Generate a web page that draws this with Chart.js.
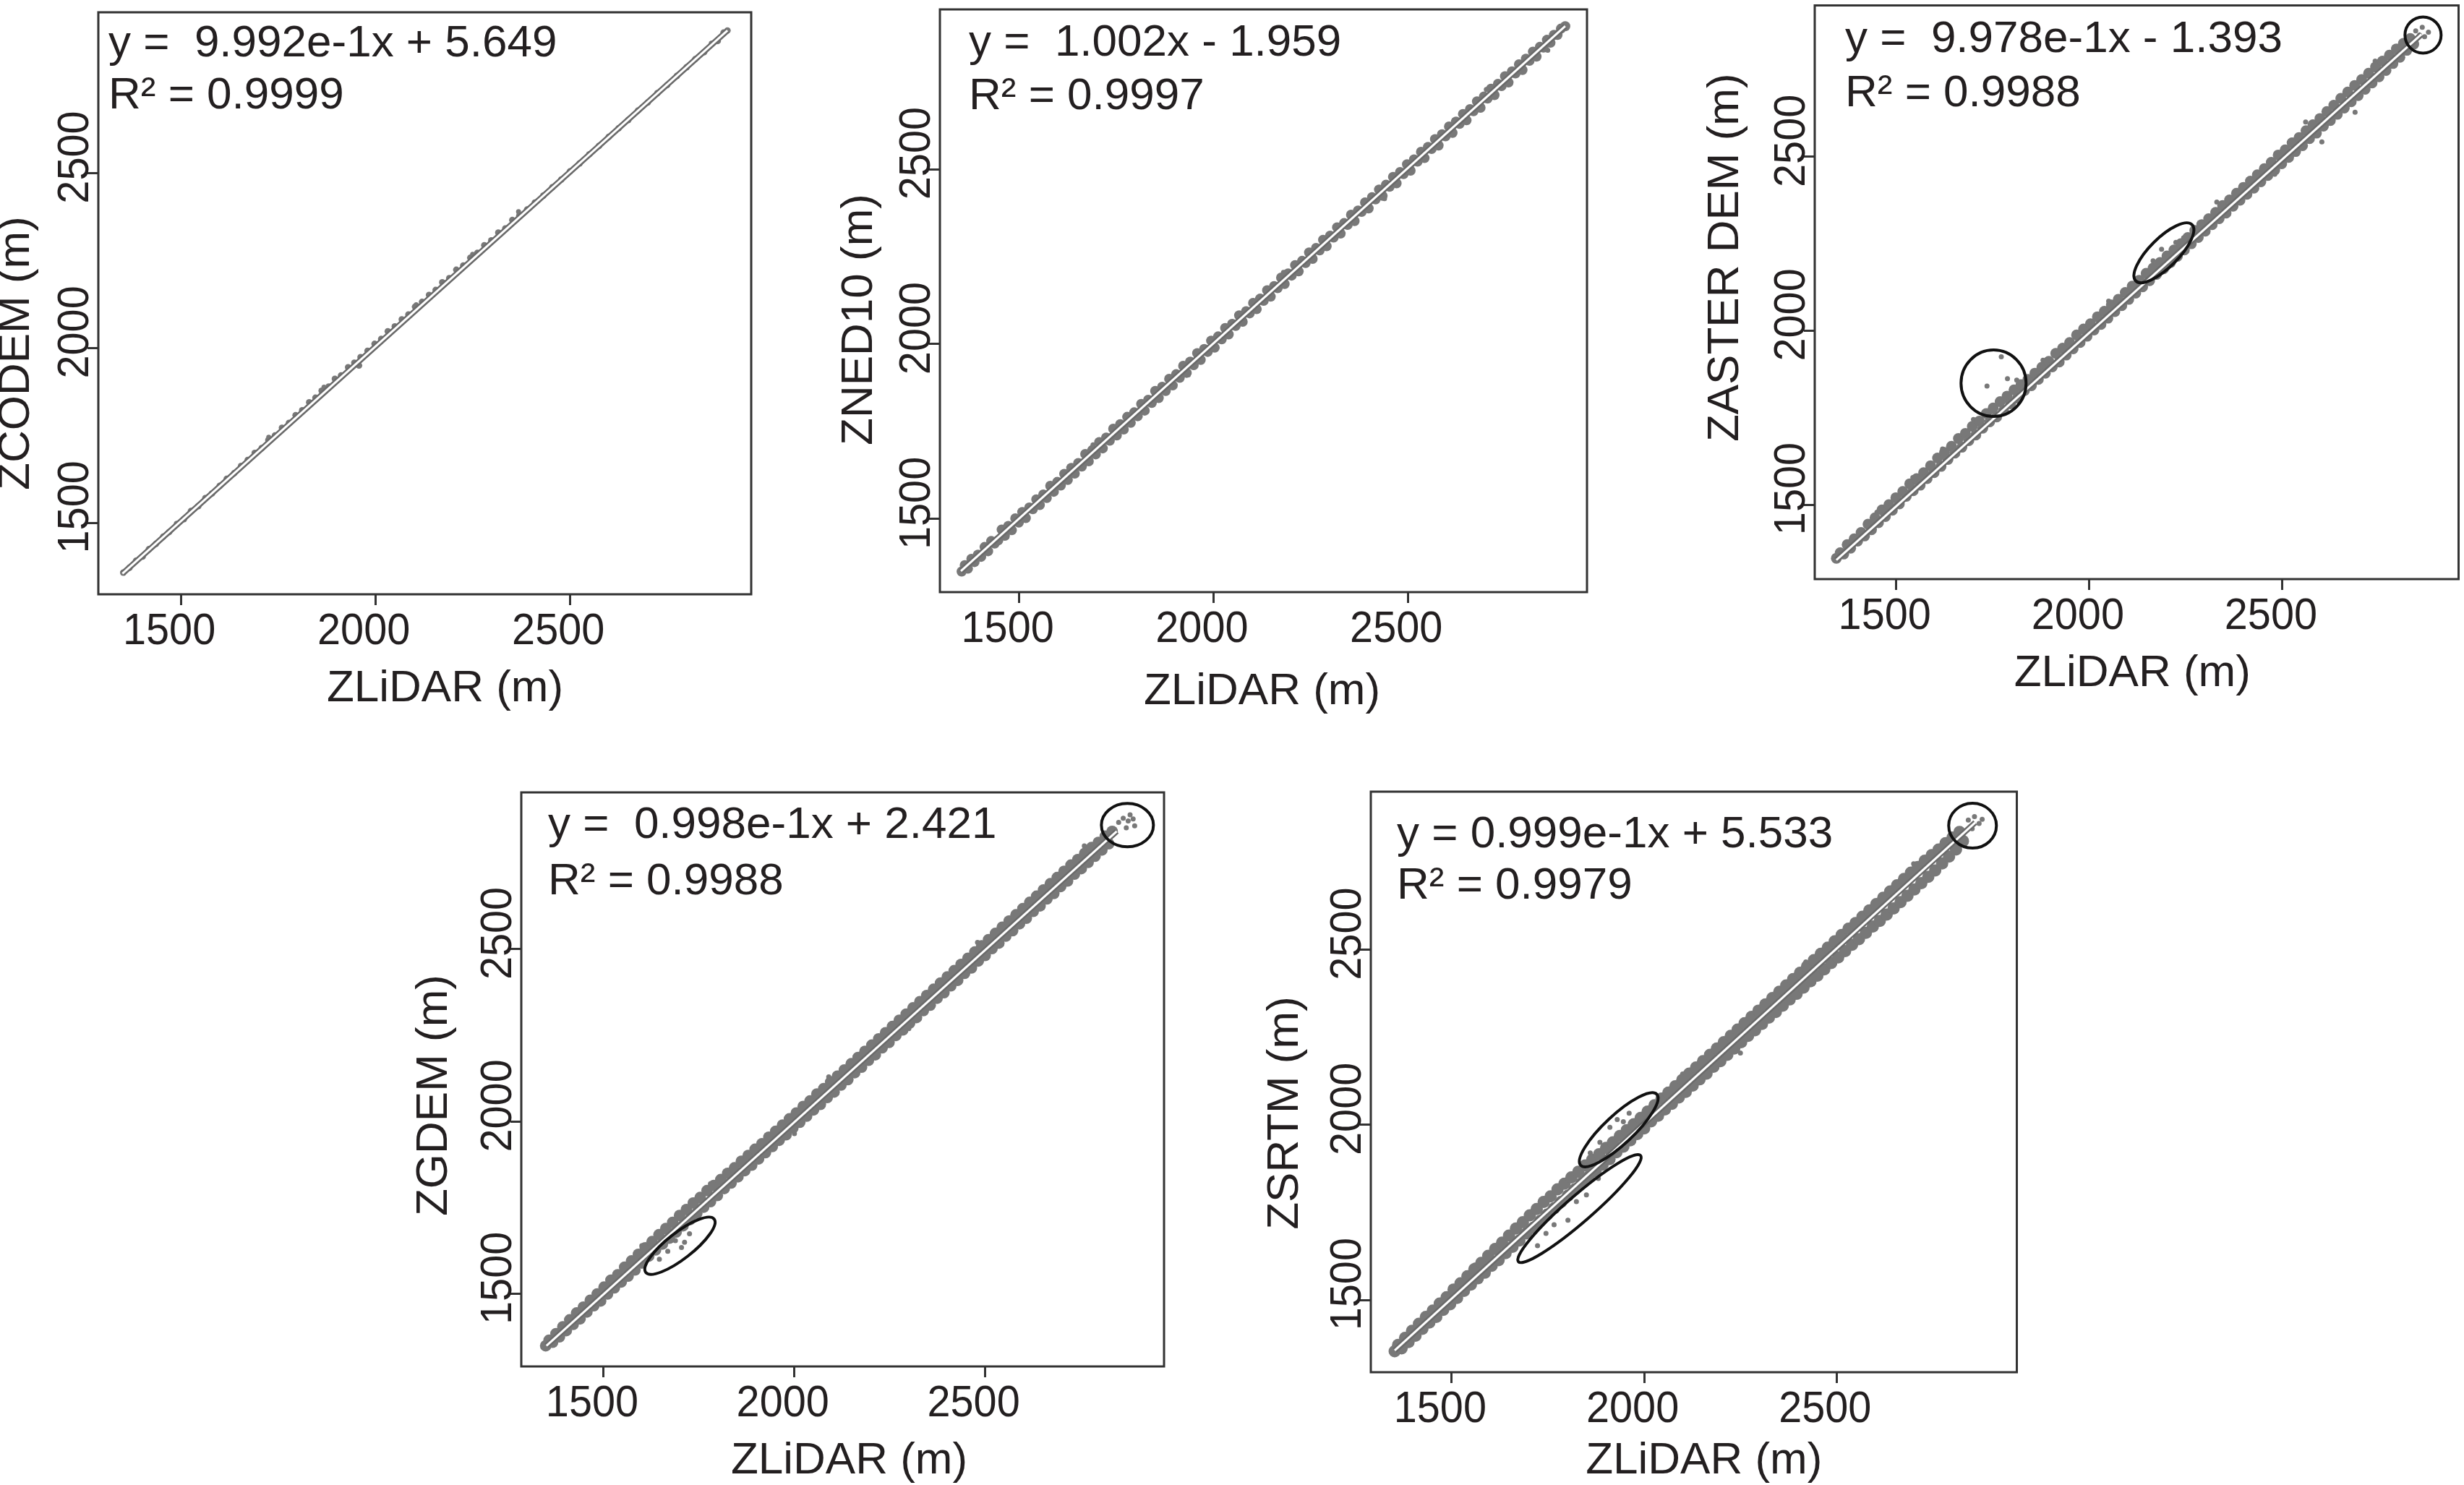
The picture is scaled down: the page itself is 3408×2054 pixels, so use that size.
<!DOCTYPE html>
<html>
<head>
<meta charset="utf-8">
<script src="https://cdn.jsdelivr.net/npm/chart.js@4.4.0/dist/chart.umd.min.js"></script>
<style>
  html, body { margin: 0; padding: 0; background: #fff; overflow: hidden; }
  body { width: 3408px; height: 2054px; position: relative; }
  canvas { position: absolute; }
</style>
</head>
<body>
<script>
// ticks shared by every panel
const tickValues = [1500, 2000, 2500];
const xTitle = "ZLiDAR (m)";
const yTitles = ["ZCODEM (m)", "ZNED10 (m)", "ZASTER DEM (m)", "ZGDEM (m)", "ZSRTM (m)"];
const equations = ["y =  9.992e-1x + 5.649", "y =  1.002x - 1.959", "y =  9.978e-1x - 1.393", "y =  0.998e-1x + 2.421", "y = 0.999e-1x + 5.533"];
const r2Labels = ["R\u00b2 = 0.9999", "R\u00b2 = 0.9997", "R\u00b2 = 0.9988", "R\u00b2 = 0.9988", "R\u00b2 = 0.9979"];

// ZLiDAR vs ZCODEM
const codemPts = [[1352,1358],[1368,1372],[1385,1392],[1402,1404],[1418,1425],[1436,1440],[1455,1461],[1470,1474],[1490,1497],[1508,1511],
  [1526,1534],[1545,1548],[1563,1571],[1580,1584],[1600,1606],[1618,1626],[1637,1642],[1655,1663],[1672,1680],[1690,1700],
  [1708,1714],[1725,1737],[1742,1750],[1760,1772],[1778,1786],[1795,1808],[1812,1822],[1830,1845],[1846,1858],[1862,1878],
  [1880,1890],[1896,1912],[1912,1922],[1930,1945],[1946,1958],[1962,1974],[1958,1950],[1980,1992],[1998,2012],[2015,2026],
  [2032,2048],[2050,2062],[2068,2082],[2085,2096],[2102,2118],[2120,2132],[2138,2152],[2155,2166],[2172,2188],[2190,2200],
  [2208,2224],[2226,2236],[2244,2258],[2262,2272],[2280,2294],[2298,2308],[2316,2330],[2334,2342],[2352,2366],[2370,2378],
  [2390,2396],[2410,2416],[2432,2436],[2455,2460],[2478,2482],[2500,2505],[2525,2528],[2550,2554],[2575,2578],[2600,2604],
  [2625,2628],[2650,2652],[2675,2679],[2700,2702],[2725,2729],[2750,2752],[2775,2778],[2800,2803],[2822,2826],[2845,2846],
  [2865,2870],[2880,2878],[2895,2902],[2905,2908]];
const codemOdd = [[1726,1745],[1868,1888],[2105,2124],[2250,2268],[2368,2390]];
const codemFit = [[1350,1355],[2905,2908]];

// ZLiDAR vs ZNED10
const nedPts = [[1352,1350],[1360,1368],[1368,1358],[1377,1386],[1385,1377],[1394,1398],[1402,1392],[1411,1420],[1420,1408],[1428,1437],
  [1437,1430],[1446,1439],[1455,1470],[1463,1452],[1472,1480],[1481,1468],[1490,1502],[1499,1490],[1508,1520],[1517,1503],
  [1526,1533],[1535,1528],[1544,1556],[1553,1540],[1562,1570],[1571,1560],[1580,1595],[1589,1578],[1598,1606],[1607,1596],
  [1616,1629],[1625,1612],[1634,1646],[1643,1630],[1652,1660],[1661,1650],[1670,1686],[1679,1665],[1688,1697],[1697,1685],
  [1706,1720],[1715,1702],[1724,1733],[1733,1724],[1742,1758],[1751,1739],[1760,1771],[1769,1756],[1778,1792],[1787,1775],
  [1796,1805],[1805,1794],[1814,1829],[1823,1810],[1832,1841],[1841,1832],[1850,1866],[1859,1846],[1868,1878],[1877,1866],
  [1886,1901],[1895,1882],[1904,1914],[1913,1904],[1922,1938],[1931,1918],[1940,1950],[1949,1940],[1958,1974],[1967,1955],
  [1976,1986],[1985,1978],[1994,2010],[2003,1990],[2012,2022],[2021,2014],[2030,2046],[2039,2028],[2048,2058],[2057,2052],
  [2066,2082],[2075,2064],[2084,2094],[2093,2088],[2102,2118],[2111,2100],[2120,2130],[2129,2124],[2138,2154],[2147,2136],
  [2156,2166],[2165,2160],[2174,2190],[2183,2172],[2192,2202],[2201,2196],[2210,2226],[2219,2208],[2228,2238],[2237,2232],
  [2246,2262],[2255,2244],[2264,2275],[2273,2268],[2282,2298],[2291,2280],[2300,2310],[2309,2305],[2318,2334],[2327,2316],
  [2336,2346],[2345,2341],[2354,2370],[2363,2352],[2372,2382],[2381,2378],[2390,2405],[2399,2388],[2408,2420],[2417,2414],
  [2426,2442],[2435,2424],[2444,2456],[2453,2450],[2462,2478],[2471,2460],[2480,2492],[2489,2486],[2498,2514],[2507,2496],
  [2516,2528],[2525,2522],[2534,2550],[2543,2532],[2552,2564],[2561,2558],[2570,2586],[2579,2568],[2588,2600],[2597,2594],
  [2606,2622],[2615,2604],[2624,2636],[2633,2630],[2642,2658],[2651,2640],[2660,2672],[2669,2666],[2678,2694],[2687,2676],
  [2696,2708],[2705,2702],[2714,2730],[2723,2712],[2732,2744],[2741,2738],[2750,2766],[2759,2748],[2768,2780],[2777,2774],
  [2786,2800],[2795,2784],[2804,2816],[2813,2810],[2822,2836],[2831,2822],[2840,2850],[2849,2848],[2858,2870],[2867,2862],
  [2876,2884],[2885,2884],[2894,2902],[2905,2909]];
const nedOdd = [[1468,1448],[1690,1712],[1935,1912],[2180,2205],[2440,2416],[2702,2728],[2860,2840]];
const nedFit = [[1350,1351],[2905,2909]];

// ZLiDAR vs ZASTER DEM
const asterPts = [[1345,1346],[1355,1362],[1364,1358],[1373,1385],[1382,1375],[1391,1402],[1400,1395],[1409,1420],[1418,1410],[1427,1444],
  [1436,1428],[1445,1462],[1454,1448],[1463,1485],[1472,1466],[1481,1500],[1490,1484],[1499,1520],[1508,1502],[1517,1538],
  [1526,1524],[1535,1560],[1544,1540],[1553,1575],[1562,1556],[1571,1592],[1580,1575],[1589,1612],[1598,1592],
  [1607,1634],[1616,1610],[1625,1650],[1634,1630],[1643,1668],[1652,1648],[1661,1690],[1670,1665],[1679,1705],[1688,1684],
  [1697,1725],[1706,1700],[1715,1740],[1724,1720],[1733,1762],[1742,1738],[1751,1778],[1760,1752],[1769,1796],[1778,1770],
  [1787,1812],[1796,1790],[1805,1830],[1814,1806],[1823,1845],[1832,1828],[1841,1860],[1850,1842],[1859,1878],[1868,1860],
  [1877,1895],[1886,1878],[1895,1912],[1904,1896],[1913,1935],[1922,1910],[1931,1950],[1940,1930],[1949,1966],[1958,1948],
  [1967,1988],[1976,1966],[1985,2005],[1994,1984],[2003,2020],[2012,2002],[2021,2040],[2030,2018],[2039,2056],[2048,2036],
  [2057,2074],[2066,2055],[2075,2090],[2084,2072],[2093,2110],[2102,2090],[2111,2128],[2120,2108],[2129,2145],[2138,2126],
  [2147,2165],[2156,2144],[2165,2180],[2174,2162],[2183,2196],[2192,2178],[2201,2215],[2210,2196],[2219,2232],[2228,2214],
  [2237,2250],[2246,2232],[2255,2268],[2264,2250],[2273,2288],[2282,2268],[2291,2305],[2300,2286],[2309,2322],[2318,2305],
  [2327,2340],[2336,2322],[2345,2360],[2354,2338],[2363,2376],[2372,2358],[2381,2395],[2390,2375],[2399,2412],[2408,2392],
  [2417,2430],[2426,2410],[2435,2448],[2444,2428],[2453,2466],[2462,2446],[2471,2484],[2480,2462],[2489,2505],[2498,2480],
  [2507,2520],[2516,2498],[2525,2540],[2534,2515],[2543,2555],[2552,2532],[2561,2575],[2570,2552],[2579,2592],[2588,2568],
  [2597,2610],[2606,2588],[2615,2630],[2624,2604],[2633,2648],[2642,2622],[2651,2668],[2660,2640],[2669,2686],
  [2678,2658],[2687,2705],[2696,2676],[2705,2722],[2714,2694],[2723,2740],[2732,2712],[2741,2758],[2750,2730],
  [2759,2775],[2768,2748],[2777,2792],[2786,2768],[2795,2810],[2804,2786],[2813,2826],[2822,2806],[2831,2840],[2840,2824]];
const asterOdd = [[1543,1578],[1450,1478],[1620,1660],[1700,1745],[1880,1915],[2050,2085],[2330,2370],[2480,2450],[2560,2600],
  [2740,2775],[2602,2543],[2688,2628],
  [1735,1841],[1772,1925],[1788,1862],[1812,1858],[1780,1800],[1745,1767],[1812,1828],
  [2187,2234],[2224,2254],[2244,2267],[2165,2201],
  [2845,2862],[2862,2872],[2878,2858],[2868,2845],[2855,2850]];
const asterFit = [[1345,1341],[2860,2852]];

// ZLiDAR vs ZGDEM
const gdemPts = [[1348,1350],[1357,1366],[1366,1360],[1375,1385],[1384,1376],[1393,1405],[1402,1394],[1411,1425],[1420,1412],[1429,1445],
  [1438,1428],[1447,1462],[1456,1448],[1465,1482],[1474,1466],[1483,1500],[1492,1480],[1501,1520],[1510,1500],[1519,1540],
  [1528,1518],[1537,1556],[1546,1535],[1555,1578],[1564,1552],[1573,1596],[1582,1570],[1591,1615],[1600,1590],[1609,1634],
  [1618,1610],[1627,1652],[1636,1628],[1645,1672],[1654,1645],[1663,1690],[1672,1662],[1681,1708],[1690,1680],[1699,1728],
  [1708,1698],[1717,1745],[1726,1716],[1735,1764],[1744,1734],[1753,1780],[1762,1752],[1771,1800],[1780,1768],[1789,1815],
  [1798,1786],[1807,1832],[1816,1806],[1825,1850],[1834,1822],[1843,1866],[1852,1840],[1861,1885],[1870,1858],[1879,1902],
  [1888,1874],[1897,1920],[1906,1892],[1915,1936],[1924,1910],[1933,1955],[1942,1928],[1951,1972],[1960,1946],[1969,1990],
  [1978,1962],[1987,2008],[1996,1982],[2005,2025],[2014,1998],[2023,2044],[2032,2016],[2041,2060],[2050,2034],[2059,2080],
  [2068,2050],[2077,2096],[2086,2070],[2095,2115],[2104,2086],[2113,2132],[2122,2106],[2131,2150],[2140,2122],[2149,2168],
  [2158,2142],[2167,2186],[2176,2158],[2185,2204],[2194,2178],[2203,2222],[2212,2194],[2221,2240],[2230,2214],[2239,2258],
  [2248,2230],[2257,2276],[2266,2250],[2275,2294],[2284,2266],[2293,2312],[2302,2286],[2311,2330],[2320,2302],[2329,2348],
  [2338,2322],[2347,2366],[2356,2338],[2365,2384],[2374,2358],[2383,2402],[2392,2374],[2401,2420],[2410,2394],[2419,2438],
  [2428,2410],[2437,2456],[2446,2430],[2455,2474],[2464,2446],[2473,2492],[2482,2466],[2491,2510],[2500,2482],[2509,2528],
  [2518,2502],[2527,2546],[2536,2518],[2545,2564],[2554,2538],[2563,2582],[2572,2554],[2581,2600],[2590,2574],[2599,2618],
  [2608,2590],[2617,2636],[2626,2610],[2635,2654],[2644,2626],[2653,2672],[2662,2646],[2671,2690],[2680,2662],[2689,2708],
  [2698,2682],[2707,2726],[2716,2698],[2725,2744],[2734,2718],[2743,2760],[2752,2734],[2761,2778],[2770,2752],[2779,2795],
  [2788,2770],[2797,2810],[2806,2788],[2815,2828],[2824,2806],[2833,2842]];
const gdemOdd = [[1600,1640],[1780,1820],[2000,1965],[2090,2130],[2300,2270],[2480,2520],[2650,2620],[2760,2800],
  [1688,1655],[1725,1675],[1704,1635],[1668,1624],[1646,1601],[1712,1650],
  [2850,2868],[2862,2880],[2875,2872],[2888,2878],[2870,2852],[2892,2858],[2880,2890]];
const gdemFit = [[1350,1350],[2845,2842]];

// ZLiDAR vs ZSRTM
const srtmPts = [[1352,1354],[1361,1372],[1370,1362],[1379,1392],[1388,1380],[1397,1412],[1406,1398],[1415,1432],[1424,1418],[1433,1452],
  [1442,1436],[1451,1470],[1460,1452],[1469,1490],[1478,1472],[1487,1508],[1496,1488],[1505,1530],[1514,1506],[1523,1548],
  [1532,1526],[1541,1568],[1550,1544],[1559,1588],[1568,1562],[1577,1606],[1586,1578],[1595,1626],[1604,1598],[1613,1646],
  [1622,1614],[1631,1664],[1640,1634],[1649,1684],[1658,1652],[1667,1704],[1676,1670],[1685,1722],[1694,1690],[1703,1742],
  [1712,1706],[1721,1760],[1730,1726],[1739,1780],[1748,1744],[1757,1796],[1766,1762],[1775,1816],[1784,1780],[1793,1832],
  [1802,1798],[1811,1850],[1820,1816],[1829,1866],[1838,1834],[1847,1884],[1856,1852],[1865,1900],[1874,1868],[1883,1916],
  [1892,1886],[1901,1934],[1910,1902],[1919,1950],[1928,1922],[1937,1968],[1946,1938],[1955,1985],[1964,1956],[1973,2002],
  [1982,1974],[1991,2020],[2000,1990],[2009,2038],[2018,2010],[2027,2056],[2036,2026],[2045,2075],[2054,2044],[2063,2092],
  [2072,2060],[2081,2110],[2090,2078],[2099,2128],[2108,2094],[2117,2146],[2126,2112],[2135,2164],[2144,2130],[2153,2182],
  [2162,2146],[2171,2200],[2180,2166],[2189,2218],[2198,2182],[2207,2236],[2216,2200],[2225,2254],[2234,2218],[2243,2272],
  [2252,2236],[2261,2290],[2270,2254],[2279,2308],[2288,2270],[2297,2326],[2306,2288],[2315,2344],[2324,2306],[2333,2362],
  [2342,2322],[2351,2380],[2360,2340],[2369,2398],[2378,2358],[2387,2416],[2396,2374],[2405,2434],[2414,2392],[2423,2452],
  [2432,2410],[2441,2470],[2450,2426],[2459,2488],[2468,2444],[2477,2506],[2486,2462],[2495,2524],[2504,2478],[2513,2542],
  [2522,2496],[2531,2560],[2540,2514],[2549,2576],[2558,2530],[2567,2594],[2576,2548],[2585,2612],[2594,2566],[2603,2630],
  [2612,2582],[2621,2648],[2630,2600],[2639,2666],[2648,2618],[2657,2684],[2666,2636],[2675,2702],[2684,2654],[2693,2720],
  [2702,2672],[2711,2736],[2720,2690],[2729,2754],[2738,2708],[2747,2770],[2756,2726],[2765,2786],[2774,2746],[2783,2804],
  [2792,2766],[2801,2820],[2810,2786],[2819,2836],[2828,2810]];
const srtmOdd = [[1560,1600],[1640,1680],[2100,2145],[2250,2205],[2420,2465],[2600,2560],[2700,2745],[2780,2740],
  [1860,1920],[1911,1993],[1961,2033],[1946,2009],[1885,1950],[1930,2015],
  [1723,1655],[1766,1715],[1824,1781],[1881,1847],[1802,1728],[1745,1690],[1850,1800],
  [2842,2870],[2858,2880],[2870,2860],[2852,2845],[2878,2872]];
const srtmFit = [[1352,1356],[2860,2863]];

// layout of the five panels (page pixels) and the marked outlier groups
const panels = [
  { pts: codemPts, odd: codemOdd, fit: codemFit, box: [136, 17, 1039, 822], xr: [1288, 2966], yr: [1296, 2960], r: 4.5,
    eqX: 14, eqY: [61, 133], yT: [-96, 69], xT: [28, 148], rings: [] },
  { pts: nedPts, odd: nedOdd, fit: nedFit, box: [1300, 13, 2196, 819], xr: [1296, 2961], yr: [1291, 2957], r: 7,
    eqX: 40, eqY: [64, 138], yT: [-94, 26], xT: [-2, 155], rings: [] },
  { pts: asterPts, odd: asterOdd, fit: asterFit, box: [2510, 2, 3402, 801], xr: [1289, 2956], yr: [1286, 2935], r: 7.5,
    eqX: 42, eqY: [64, 139], yT: [-106, -48], xT: [-6, 148],
    rings: [{ x: 1752, y: 1849, a: 45, b: 46, rot: 0 }, { x: 2193, y: 2224, a: 55, b: 20, rot: 45 }, { x: 2864, y: 2850, a: 25, b: 25, rot: 0 }] },
  { pts: gdemPts, odd: gdemOdd, fit: gdemFit, box: [721, 1096, 1612, 1890], xr: [1284, 2969], yr: [1290, 2955], r: 8,
    eqX: 37, eqY: [63, 141], yT: [-103, 22], xT: [9, 148],
    rings: [{ x: 1700, y: 1640, a: 60, b: 18, rot: 38 }, { x: 2873, y: 2860, a: 36, b: 30, rot: 0 }] },
  { pts: srtmPts, odd: srtmOdd, fit: srtmFit, box: [1896, 1095, 2792, 1898], xr: [1290, 2968], yr: [1294, 2951], r: 8.5,
    eqX: 36, eqY: [77, 148], yT: [-101, 43], xT: [14, 140],
    rings: [{ x: 1934, y: 1986, a: 72, b: 20, rot: 43 }, { x: 1832, y: 1761, a: 112, b: 18, rot: 41 }, { x: 2853, y: 2854, a: 33, b: 31, rot: 0 }] }
];

const INK = "#231f20";
const DOT = "#787878";
const FONT = "'Liberation Sans', Arial, sans-serif";
const LEFT_SPACE = 150, BOTTOM_SPACE = 175, RIGHT_SPACE = 6;

function toXY(list) {
  return list.map(p => ({ x: p[0], y: p[1] }));
}

// draws the R-style frame, labels, equation text and the outlier rings
const rStyle = {
  id: "rStyle",
  afterDatasetsDraw(chart, args, opts) {
    const ctx = chart.ctx, xs = chart.scales.x, ys = chart.scales.y;
    ctx.save();
    ctx.strokeStyle = "#111";
    ctx.lineWidth = 4;
    opts.panel.rings.forEach(e => {
      ctx.beginPath();
      ctx.ellipse(xs.getPixelForValue(e.x), ys.getPixelForValue(e.y), e.a, e.b, -e.rot * Math.PI / 180, 0, Math.PI * 2);
      ctx.stroke();
    });
    ctx.restore();
  },
  afterDraw(chart, args, opts) {
    const p = opts.panel, i = opts.index;
    const ctx = chart.ctx, area = chart.chartArea, xs = chart.scales.x, ys = chart.scales.y;
    ctx.save();
    ctx.strokeStyle = "#333";
    ctx.lineWidth = 3;
    ctx.strokeRect(area.left, area.top, area.right - area.left, area.bottom - area.top);

    ctx.fillStyle = INK;
    ctx.textAlign = "center";
    ctx.textBaseline = "alphabetic";
    ctx.font = "62px " + FONT;
    // tick labels (R puts the y ones along the axis)
    tickValues.forEach(v => {
      ctx.save();
      ctx.translate(xs.getPixelForValue(v) - 16, area.bottom + 69);
      ctx.scale(0.93, 1);
      ctx.fillText(String(v), 0, 0);
      ctx.restore();
      ctx.save();
      ctx.translate(area.left - 14, ys.getPixelForValue(v) - 22);
      ctx.rotate(-Math.PI / 2);
      ctx.scale(0.93, 1);
      ctx.fillText(String(v), 0, 0);
      ctx.restore();
    });
    // axis titles
    ctx.fillText(xTitle, (area.left + area.right) / 2 + p.xT[0], area.bottom + p.xT[1]);
    ctx.save();
    ctx.translate(area.left + p.yT[0], (area.top + area.bottom) / 2 + p.yT[1]);
    ctx.rotate(-Math.PI / 2);
    ctx.fillText(yTitles[i], 0, 0);
    ctx.restore();
    // regression text
    ctx.textAlign = "left";
    ctx.fillText(equations[i], area.left + p.eqX, area.top + p.eqY[0]);
    ctx.fillText(r2Labels[i], area.left + p.eqX, area.top + p.eqY[1]);
    ctx.restore();
  }
};

panels.forEach((p, i) => {
  const [l, t, r, b] = p.box;
  const top = Math.max(0, t - 20);
  const canvas = document.createElement("canvas");
  canvas.width = (r - l) + LEFT_SPACE + RIGHT_SPACE;
  canvas.height = (t - top) + (b - t) + BOTTOM_SPACE;
  canvas.style.left = (l - LEFT_SPACE) + "px";
  canvas.style.top = top + "px";
  canvas.style.width = canvas.width + "px";
  canvas.style.height = canvas.height + "px";
  document.body.appendChild(canvas);

  const axisGrid = { drawOnChartArea: false, drawTicks: true, tickLength: 15, lineWidth: 3, color: "#333" };
  new Chart(canvas, {
    type: "scatter",
    data: {
      datasets: [
        { data: toXY(p.fit), showLine: true, borderColor: "#ffffff", borderWidth: 3, pointRadius: 0, order: 0 },
        { data: toXY(p.fit), showLine: true, borderColor: "#6a6a6a", borderWidth: 8, pointRadius: 0, order: 1 },
        { data: toXY(p.pts), pointRadius: p.r, pointBorderWidth: 0, backgroundColor: DOT, order: 2 },
        { data: toXY(p.odd), pointRadius: 3.5, pointBorderWidth: 0, backgroundColor: DOT, order: 3 }
      ]
    },
    options: {
      responsive: false,
      animation: false,
      devicePixelRatio: 1,
      layout: { padding: { left: 0, top: t - top, right: RIGHT_SPACE, bottom: 0 } },
      plugins: {
        legend: { display: false },
        tooltip: { enabled: false },
        rStyle: { panel: p, index: i }
      },
      scales: {
        x: {
          type: "linear", min: p.xr[0], max: p.xr[1],
          afterBuildTicks: s => { s.ticks = tickValues.map(v => ({ value: v })); },
          afterFit: s => { s.height = BOTTOM_SPACE; },
          ticks: { display: false },
          grid: axisGrid,
          border: { display: false }
        },
        y: {
          type: "linear", min: p.yr[0], max: p.yr[1],
          afterBuildTicks: s => { s.ticks = tickValues.map(v => ({ value: v })); },
          afterFit: s => { s.width = LEFT_SPACE; },
          ticks: { display: false },
          grid: axisGrid,
          border: { display: false }
        }
      }
    },
    plugins: [rStyle]
  });
});
</script>
</body>
</html>
